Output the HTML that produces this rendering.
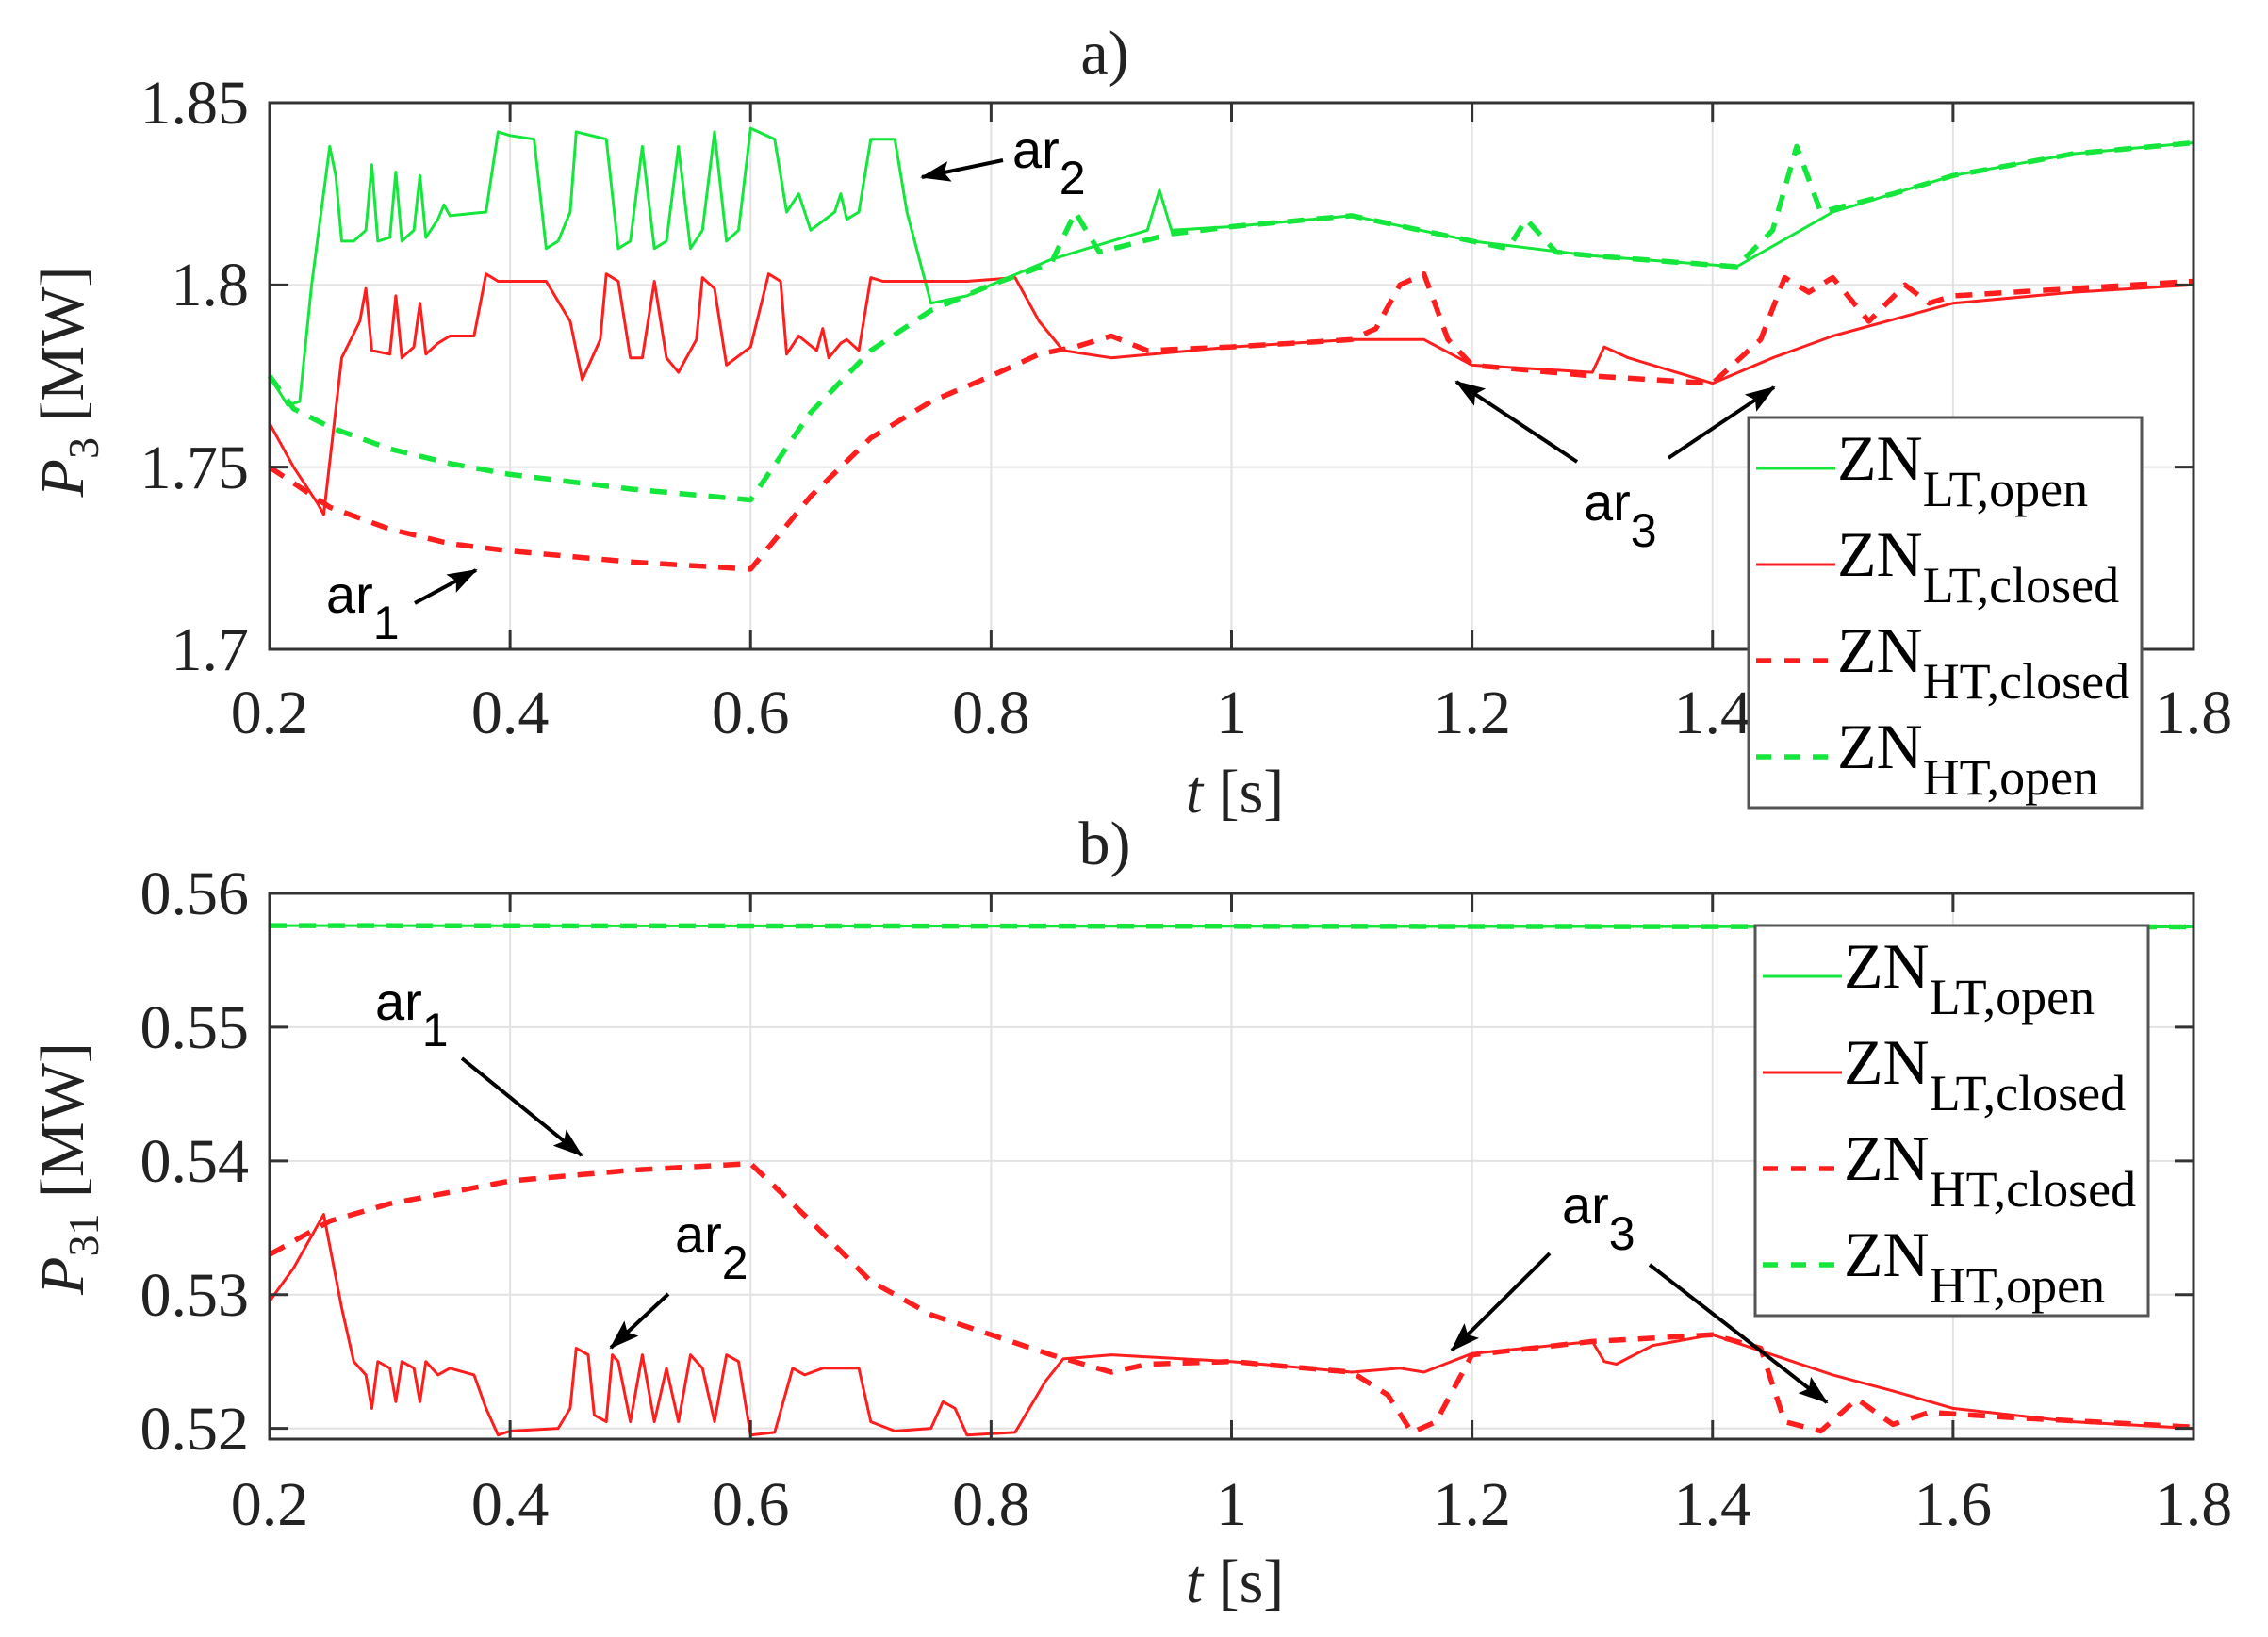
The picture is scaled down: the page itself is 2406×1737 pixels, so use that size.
<!DOCTYPE html>
<html><head><meta charset="utf-8"><style>
html,body{margin:0;padding:0;background:#fff;}
svg{display:block;}
.tk{font-family:"Liberation Serif",serif;font-size:66px;fill:#222;}
.ar{font-family:"Liberation Sans",sans-serif;font-size:56px;fill:#000;}
.lg{font-family:"Liberation Serif",serif;fill:#000;}
</style></head><body>
<svg id="s" width="2406" height="1737" viewBox="0 0 2406 1737" xmlns="http://www.w3.org/2000/svg">
<defs><marker id="ah" markerWidth="32" markerHeight="22" refX="30" refY="11" orient="auto" markerUnits="userSpaceOnUse" viewBox="0 0 32 22"><path d="M0,0 L32,11 L0,22 L6,11 z" fill="#000"/></marker></defs>
<g id="grid"></g>
<g id="data"></g>
<g id="axes"></g>
<text class="tk" x="1172" y="78" text-anchor="middle">a)</text>
<text class="tk" x="1172" y="917" text-anchor="middle">b)</text>
<text class="tk" x="264" y="131" text-anchor="end">1.85</text>
<text class="tk" x="264" y="324" text-anchor="end">1.8</text>
<text class="tk" x="264" y="518" text-anchor="end">1.75</text>
<text class="tk" x="264" y="711" text-anchor="end">1.7</text>
<text class="tk" x="264" y="970" text-anchor="end">0.56</text>
<text class="tk" x="264" y="1112" text-anchor="end">0.55</text>
<text class="tk" x="264" y="1254" text-anchor="end">0.54</text>
<text class="tk" x="264" y="1396" text-anchor="end">0.53</text>
<text class="tk" x="264" y="1538" text-anchor="end">0.52</text>
<g id="xl"></g>
<text class="tk" x="1310" y="862" text-anchor="middle"><tspan font-style="italic">t</tspan> [s]</text>
<text class="tk" x="1310" y="1700" text-anchor="middle"><tspan font-style="italic">t</tspan> [s]</text>
<text class="tk" transform="translate(88,405) rotate(-90)" text-anchor="middle"><tspan font-style="italic">P</tspan><tspan font-size="46" dy="16">3</tspan><tspan dy="-16"> [MW]</tspan></text>
<text class="tk" transform="translate(88,1240) rotate(-90)" text-anchor="middle"><tspan font-style="italic">P</tspan><tspan font-size="46" dy="16">31</tspan><tspan dy="-16"> [MW]</tspan></text>
<g id="leg"></g>
<g stroke="#000" stroke-width="4" marker-end="url(#ah)">
<line x1="440" y1="640" x2="505" y2="605"/>
<line x1="1064" y1="170" x2="978" y2="188"/>
<line x1="1673" y1="490" x2="1545" y2="405"/>
<line x1="1770" y1="486" x2="1882" y2="411"/>
<line x1="490" y1="1123" x2="617" y2="1226"/>
<line x1="709" y1="1373" x2="648" y2="1430"/>
<line x1="1644" y1="1330" x2="1540" y2="1433"/>
<line x1="1750" y1="1342" x2="1938" y2="1488"/>
</g>
<text class="ar" x="346" y="650">ar<tspan font-size="50" dy="28">1</tspan></text>
<text class="ar" x="1074" y="178">ar<tspan font-size="50" dy="28">2</tspan></text>
<text class="ar" x="1680" y="552">ar<tspan font-size="50" dy="28">3</tspan></text>
<text class="ar" x="398" y="1082">ar<tspan font-size="50" dy="28">1</tspan></text>
<text class="ar" x="716" y="1329">ar<tspan font-size="50" dy="28">2</tspan></text>
<text class="ar" x="1657" y="1298">ar<tspan font-size="50" dy="28">3</tspan></text>
</svg>
<script>
var NS="http://www.w3.org/2000/svg";
function el(p,n,a){var e=document.createElementNS(NS,n);for(var k in a)e.setAttribute(k,a[k]);document.getElementById(p).appendChild(e);return e;}
var L=286,R=2327;
function X(t){return L+(t-0.2)*(R-L)/1.6;}
var A={top:109,bot:689,vt:1.85,vb:1.7};
var B={top:948,bot:1527,vt:0.56,vb:0.5192};
function Yf(P){return function(v){return P.top+(P.vt-v)/(P.vt-P.vb)*(P.bot-P.top);};}
var YA=Yf(A),YB=Yf(B);
[A,B].forEach(function(P){
 for(var i=1;i<8;i++){var x=X(0.2+i*0.2);el("grid","line",{x1:x,x2:x,y1:P.top,y2:P.bot,stroke:"#e2e2e2","stroke-width":2});}
});
[1.75,1.8].forEach(function(v){el("grid","line",{x1:L,x2:R,y1:YA(v),y2:YA(v),stroke:"#e2e2e2","stroke-width":2});});
[0.55,0.54,0.53,0.52].forEach(function(v){el("grid","line",{x1:L,x2:R,y1:YB(v),y2:YB(v),stroke:"#e2e2e2","stroke-width":2});});
[A,B].forEach(function(P){
 el("axes","rect",{x:L,y:P.top,width:R-L,height:P.bot-P.top,fill:"none",stroke:"#333","stroke-width":3});
 for(var i=1;i<8;i++){var x=X(0.2+i*0.2);el("axes","line",{x1:x,x2:x,y1:P.bot,y2:P.bot-20,stroke:"#333","stroke-width":3});el("axes","line",{x1:x,x2:x,y1:P.top,y2:P.top+20,stroke:"#333","stroke-width":3});}
});
[1.75,1.8].forEach(function(v){el("axes","line",{x1:L,x2:L+20,y1:YA(v),y2:YA(v),stroke:"#333","stroke-width":3});el("axes","line",{x1:R,x2:R-20,y1:YA(v),y2:YA(v),stroke:"#333","stroke-width":3});});
[0.55,0.54,0.53,0.52].forEach(function(v){el("axes","line",{x1:L,x2:L+20,y1:YB(v),y2:YB(v),stroke:"#333","stroke-width":3});el("axes","line",{x1:R,x2:R-20,y1:YB(v),y2:YB(v),stroke:"#333","stroke-width":3});});
var xs=["0.2","0.4","0.6","0.8","1","1.2","1.4","1.6","1.8"];
xs.forEach(function(s,i){[778,1618].forEach(function(y,j){if(j==0&&i==7)return;var t=el("xl","text",{x:X(0.2+i*0.2),y:y,"text-anchor":"middle",class:"tk"});t.textContent=s;});});
function path(pts,Y,col,w,dash){var d="";pts.forEach(function(p,i){d+=(i?"L":"M")+X(p[0]).toFixed(1)+","+Y(p[1]).toFixed(1);});
 var a={d:d,fill:"none",stroke:col,"stroke-width":w,"stroke-linejoin":"round"};if(dash)a["stroke-dasharray"]=dash;el("data","path",a);}
var G="#14e63c",Rd="#ff1e1e";
function smooth(knots,step){var o=[];for(var i=0;i<knots.length-1;i++){var a=knots[i],b=knots[i+1];var n=Math.max(1,Math.round((b[0]-a[0])/step));for(var k=0;k<n;k++){var u=k/n;o.push([a[0]+(b[0]-a[0])*u,a[1]+(b[1]-a[1])*u]);}}o.push(knots[knots.length-1]);return o;}
var htoA=[[0.2,1.775],[0.22,1.766],[0.25,1.761],[0.3,1.755],[0.35,1.751],[0.4,1.748],[0.5,1.744],[0.6,1.741],[0.65,1.765],[0.7,1.782],[0.75,1.793],[0.8,1.80],[0.85,1.806],[0.87,1.82],[0.89,1.809],[0.95,1.814],[1.0,1.816],[1.1,1.819],[1.2,1.812],[1.23,1.81],[1.245,1.818],[1.27,1.809],[1.3,1.808],[1.42,1.805],[1.45,1.815],[1.47,1.838],[1.49,1.82],[1.55,1.825],[1.6,1.83],[1.7,1.836],[1.8,1.839]];
var ltoA=[[0.2,1.775],[0.215,1.767],[0.225,1.768],[0.235,1.80],[0.25,1.838],[0.255,1.83],[0.26,1.812],[0.27,1.812],[0.28,1.815],[0.285,1.833],[0.29,1.812],[0.3,1.813],[0.305,1.831],[0.31,1.812],[0.32,1.815],[0.325,1.83],[0.33,1.813],[0.34,1.818],[0.345,1.822],[0.35,1.819],[0.38,1.82],[0.39,1.842],[0.4,1.841],[0.42,1.84],[0.43,1.81],[0.44,1.812],[0.45,1.82],[0.455,1.842],[0.48,1.84],[0.49,1.81],[0.5,1.812],[0.51,1.838],[0.52,1.81],[0.53,1.812],[0.54,1.838],[0.55,1.81],[0.56,1.815],[0.57,1.842],[0.58,1.812],[0.59,1.815],[0.6,1.843],[0.62,1.84],[0.63,1.82],[0.64,1.825],[0.65,1.815],[0.67,1.82],[0.675,1.825],[0.68,1.818],[0.69,1.82],[0.7,1.84],[0.72,1.84],[0.73,1.82],[0.75,1.795],[0.78,1.797],[0.8,1.80],[0.85,1.807],[0.9,1.812],[0.93,1.815],[0.94,1.826],[0.95,1.815],[1.0,1.816],[1.1,1.819],[1.2,1.812],[1.3,1.808],[1.42,1.805],[1.5,1.82],[1.6,1.83],[1.7,1.836],[1.8,1.839]];
var ltcA=[[0.2,1.762],[0.22,1.75],[0.24,1.74],[0.245,1.737],[0.26,1.78],[0.275,1.79],[0.28,1.799],[0.285,1.782],[0.3,1.781],[0.305,1.797],[0.31,1.78],[0.32,1.783],[0.325,1.795],[0.33,1.781],[0.34,1.784],[0.35,1.786],[0.37,1.786],[0.38,1.803],[0.39,1.801],[0.43,1.801],[0.45,1.79],[0.46,1.774],[0.475,1.785],[0.48,1.803],[0.49,1.801],[0.5,1.78],[0.51,1.78],[0.52,1.801],[0.53,1.78],[0.54,1.776],[0.555,1.785],[0.56,1.802],[0.57,1.799],[0.58,1.778],[0.6,1.783],[0.615,1.803],[0.625,1.801],[0.63,1.781],[0.64,1.786],[0.655,1.782],[0.66,1.788],[0.665,1.78],[0.675,1.784],[0.68,1.785],[0.69,1.782],[0.7,1.802],[0.71,1.801],[0.78,1.801],[0.82,1.802],[0.84,1.79],[0.86,1.782],[0.9,1.78],[1.0,1.783],[1.1,1.785],[1.16,1.785],[1.2,1.778],[1.3,1.776],[1.31,1.783],[1.33,1.78],[1.4,1.773],[1.45,1.78],[1.5,1.786],[1.6,1.795],[1.7,1.798],[1.8,1.80]];
var htcA=[[0.2,1.75],[0.25,1.739],[0.3,1.733],[0.35,1.729],[0.4,1.727],[0.5,1.724],[0.6,1.722],[0.65,1.742],[0.7,1.758],[0.75,1.768],[0.8,1.775],[0.84,1.781],[0.87,1.783],[0.9,1.786],[0.93,1.782],[1.0,1.783],[1.1,1.785],[1.12,1.788],[1.14,1.80],[1.16,1.803],[1.18,1.785],[1.2,1.778],[1.3,1.775],[1.4,1.773],[1.44,1.785],[1.46,1.802],[1.48,1.798],[1.5,1.802],[1.53,1.79],[1.56,1.80],[1.58,1.795],[1.6,1.797],[1.7,1.799],[1.8,1.801]];
path(ltoA,YA,G,3);
path(ltcA,YA,Rd,3);
path(smooth(htcA,0.01),YA,Rd,5.5,"18 13");
path(smooth(htoA,0.01),YA,G,5.5,"18 13");
path([[0.2,0.5576],[1.8,0.5575]],YB,G,3);
path([[0.2,0.5576],[1.8,0.5575]],YB,G,5.5,"18 13");
var ltcB=[[0.2,0.5295],[0.22,0.532],[0.245,0.536],[0.26,0.529],[0.27,0.525],[0.28,0.524],[0.285,0.5215],[0.29,0.525],[0.3,0.5245],[0.305,0.522],[0.31,0.525],[0.32,0.5245],[0.325,0.522],[0.33,0.525],[0.34,0.524],[0.35,0.5245],[0.37,0.524],[0.38,0.5215],[0.39,0.5195],[0.4,0.5198],[0.44,0.52],[0.45,0.5215],[0.455,0.526],[0.465,0.5255],[0.47,0.521],[0.48,0.5205],[0.485,0.5255],[0.49,0.525],[0.5,0.5205],[0.51,0.5255],[0.52,0.5205],[0.53,0.5245],[0.54,0.5205],[0.55,0.5255],[0.56,0.5245],[0.57,0.5205],[0.58,0.5255],[0.59,0.525],[0.6,0.5195],[0.62,0.5197],[0.635,0.5245],[0.645,0.524],[0.66,0.5245],[0.69,0.5245],[0.7,0.5205],[0.72,0.5198],[0.75,0.52],[0.76,0.522],[0.77,0.5215],[0.78,0.5195],[0.82,0.5197],[0.845,0.5235],[0.86,0.5252],[0.9,0.5255],[1.0,0.525],[1.1,0.5242],[1.14,0.5245],[1.16,0.5242],[1.2,0.5256],[1.3,0.5265],[1.31,0.525],[1.32,0.5248],[1.35,0.5262],[1.4,0.527],[1.45,0.5255],[1.5,0.524],[1.55,0.5228],[1.6,0.5215],[1.7,0.5205],[1.8,0.520]];
var htcB=[[0.2,0.533],[0.25,0.5355],[0.3,0.5368],[0.4,0.5385],[0.5,0.5393],[0.6,0.5398],[0.65,0.5355],[0.7,0.531],[0.75,0.5285],[0.8,0.527],[0.85,0.5255],[0.9,0.5242],[0.93,0.5248],[1.0,0.525],[1.1,0.5242],[1.13,0.5225],[1.15,0.5197],[1.17,0.5205],[1.2,0.5255],[1.3,0.5265],[1.4,0.527],[1.44,0.526],[1.46,0.5205],[1.49,0.5198],[1.52,0.5222],[1.55,0.5203],[1.58,0.5212],[1.65,0.5208],[1.8,0.5201]];
path(ltcB,YB,Rd,3);
path(smooth(htcB,0.01),YB,Rd,5.5,"18 13");
function legend(x,y){
 el("leg","rect",{x:x,y:y,width:417,height:414,fill:"#fff",stroke:"#555","stroke-width":3});
 var items=[[G,0,"LT,open"],[Rd,0,"LT,closed"],[Rd,1,"HT,closed"],[G,1,"HT,open"]];
 items.forEach(function(it,i){var ly=y+54+i*102;
  var a={x1:x+8,x2:x+92,y1:ly,y2:ly,stroke:it[0],"stroke-width":it[1]?5.5:3};if(it[1])a["stroke-dasharray"]="16 14";el("leg","line",a);
  var t=el("leg","text",{x:x+94,y:ly+12,class:"lg","font-size":68});
  var s1=document.createElementNS(NS,"tspan");s1.textContent="ZN";t.appendChild(s1);
  var s2=document.createElementNS(NS,"tspan");s2.setAttribute("font-size","54");s2.setAttribute("dy","28");s2.textContent=it[2];t.appendChild(s2);
 });
}
legend(1855,443);
legend(1862,982);
</script>
</body></html>
